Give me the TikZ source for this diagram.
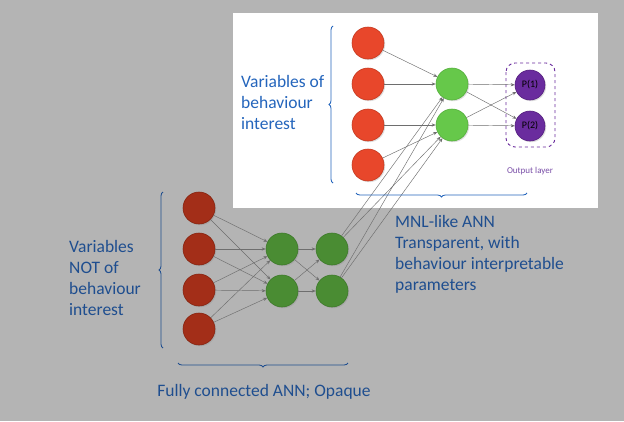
\documentclass[tikz,border=0pt]{standalone}
\usepackage{fontspec}
\setmainfont{Carlito}
\usetikzlibrary{arrows.meta,decorations.pathreplacing,shadows}
\definecolor{bggrey}{HTML}{B4B4B4}
\definecolor{redup}{HTML}{E8472B}
\definecolor{redupline}{HTML}{C53A20}
\definecolor{greenup}{HTML}{66C84A}
\definecolor{greenupline}{HTML}{55B03C}
\definecolor{purpout}{HTML}{6A2C9E}
\definecolor{purpline}{HTML}{55207F}
\definecolor{reddown}{HTML}{A32E18}
\definecolor{reddownline}{HTML}{862410}
\definecolor{greendown}{HTML}{4A8C33}
\definecolor{greendownline}{HTML}{3E7A2A}
\definecolor{linkgrey}{HTML}{6E6E6E}
\definecolor{blueup}{HTML}{2465BC}
\definecolor{bluedown}{HTML}{1F4E8F}
\definecolor{purptext}{HTML}{7A4FA8}
\tikzset{
  neuron/.style={circle,minimum size=32pt,inner sep=0pt,line width=0.6pt,
    drop shadow={opacity=0.25,shadow xshift=1.2pt,shadow yshift=-1.2pt}},
  inup/.style={neuron,fill=redup,draw=redupline},
  hidup/.style={neuron,fill=greenup,draw=greenupline},
  outp/.style={neuron,minimum size=30pt,fill=purpout,draw=purpline,font=\fontsize{10}{11}\selectfont},
  indown/.style={neuron,fill=reddown,draw=reddownline},
  hiddown/.style={neuron,fill=greendown,draw=greendownline},
  link/.style={draw=linkgrey,line width=0.45pt,-{Stealth[length=4pt,width=3.2pt]}},
  brc/.style={decorate,decoration={brace,amplitude=4pt},line width=0.85pt},
  txt/.style={inner sep=0pt,font=\fontsize{17.5}{21}\selectfont}
}
\begin{document}
\begin{tikzpicture}[x=1pt,y=-1pt]
  \fill[bggrey] (0,0) rectangle (624,421);
  \useasboundingbox (0,0) rectangle (624,421);
  \fill[white] (233,13) rectangle (598,208);
  \draw[purpout,dashed,line width=0.9pt,rounded corners=9pt] (506,63) rectangle (555,147);
  \draw
    (368,43) node[inup] (x1){}
    (368,84) node[inup] (x2){}
    (368,125) node[inup] (x3){}
    (368,165) node[inup] (x4){}
    (452,84) node[hidup] (h1){}
    (452,125) node[hidup] (h2){}
    (530,85) node[outp] (p1){P(1)}
    (530,126) node[outp] (p2){P(2)}
    (199,208) node[indown] (z1){}
    (199,249) node[indown] (z2){}
    (199,290) node[indown] (z3){}
    (199,329) node[indown] (z4){}
    (282,249) node[hiddown] (a1){}
    (282,291) node[hiddown] (a2){}
    (332,249) node[hiddown] (b1){}
    (332,291) node[hiddown] (b2){};
  \begin{scope}[link]
    \draw (x1) to (h1);
    \draw (x2) to (h1);
    \draw (x3) to (h2);
    \draw (x4) to (h2);
    \draw (h1) to (p1);
    \draw (h1) to (p2);
    \draw (h2) to (p1);
    \draw (h2) to (p2);
    \foreach \i in {1,...,4}{
      \draw (z\i) to (a1);
      \draw (z\i) to (a2);
    }
    \draw (a1) to (b1);
    \draw (a1) to (b2);
    \draw (a2) to (b1);
    \draw (a2) to (b2);
    \draw (b1) to (h1);
    \draw (b1) to (h2);
    \draw (b2) to (h1);
    \draw (b2) to (h2);
  \end{scope}
  \draw[brc,blueup] (333,183) -- (333,26);
  \draw[brc,blueup] (527,193) -- (356,193);
  \draw[brc,bluedown] (163,348) -- (163,192);
  \draw[brc,bluedown] (348,363) -- (178,363);
  \node[txt,anchor=west,align=left,text=blueup]
    (vartop) at (241,102) {Variables of\\behaviour\\interest};
  \node[txt,anchor=west,align=left,text=bluedown]
    (varbot) at (69,278) {Variables\\NOT of\\behaviour\\interest};
  \node[txt,anchor=west,align=left,text=bluedown]
    (mnl) at (395,254) {MNL-like ANN\\Transparent, with\\behaviour interpretable\\parameters};
  \node[txt,text=bluedown] (fully) at (264,392) {Fully connected ANN; Opaque};
  \node[inner sep=0pt,text=purptext,font=\fontsize{9}{10}\selectfont]
    (outlab) at (530,171) {Output layer};
\end{tikzpicture}
\end{document}
